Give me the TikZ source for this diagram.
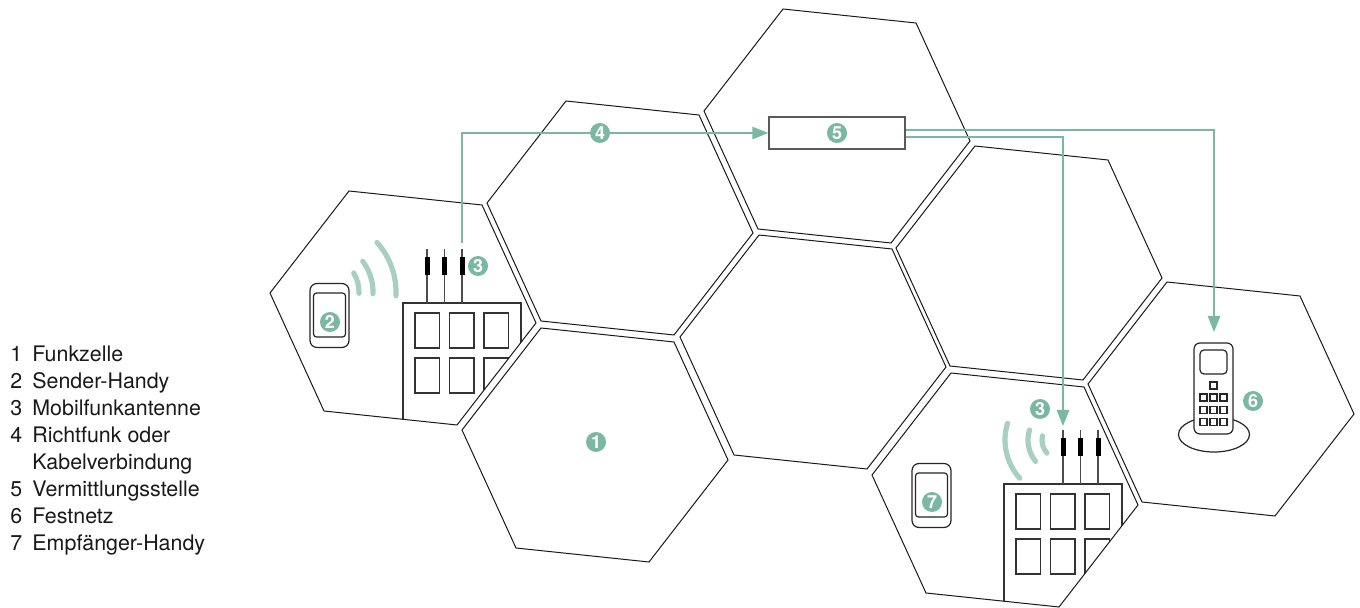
\documentclass[tikz,border=0pt]{standalone}
\usepackage{fontspec}
\setmainfont{TeX Gyre Heros}
\usetikzlibrary{arrows.meta,calc}

\definecolor{funkgruen}{RGB}{123,184,164}
\definecolor{wellengruen}{RGB}{168,208,194}

\tikzset{
  zelle/.style={draw=black!90, line width=0.5pt},
  haus/.style={draw=black!80, line width=0.6pt},
  mast/.style={draw=black!70, line width=0.6pt},
  welle/.style={draw=wellengruen, line width=2.6pt, line cap=round},
  funk/.style={draw=funkgruen, line width=0.8pt, -{Triangle[length=8pt,width=6.2pt]}},
  nr/.style={circle, fill=funkgruen, text=white, inner sep=0pt, minimum size=10pt,
    font=\fontsize{9}{9}\selectfont\bfseries},
  geraet/.style={draw=black!85, fill=white, line width=0.6pt, inner sep=0pt},
  legende/.style={anchor=base west, inner sep=0pt, text=black!90,
    font=\fontsize{10.7}{12}\selectfont},
}

% one cell, drawn around the origin
\newcommand{\wabe}{(133,15) -- (79,-103) -- (-54,-117) -- (-133,-15) -- (-79,103) -- (54,117) -- cycle}

% house with three masts: left, top, offset of the first mast
\newcommand{\gebaeude}[3]{%
  \draw[haus] (#1,#2) rectangle ++(118,160);
  \foreach \c in {0,1,2}
    \foreach \r in {0,1}
      \draw[haus] (#1+12+34.5*\c, #2+10+45*\r) rectangle ++(24.5,35);
  \foreach \m in {0,1,2} {
    \draw[mast] (#1+#3+17.5*\m, #2) -- ++(0,-54);
    \fill[black] (#1+#3+17.5*\m-2.5, #2-46) rectangle ++(5,18);
  }
}

\begin{document}
\begin{tikzpicture}[x=0.5pt, y=-0.5pt]
    \useasboundingbox (0,0) rectangle (1360,608);

    % legend
    \foreach \i/\n/\txt in {0/1/Funkzelle, 1/2/Sender-Handy, 2/3/Mobilfunkantenne,
        3/4/Richtfunk oder, 4//Kabelverbindung, 5/5/Vermittlungsstelle,
        6/6/Festnetz, 7/7/Empfänger-Handy} {
      \node[legende] (nr\i) at (10, 362+26.9*\i) {\n};
      \node[legende] (txt\i) at (32, 362+26.9*\i) {\txt};
    }

    % houses, cut off at the cell border
    \begin{scope}
      \clip[shift={(403,308)}] \wabe;
      \gebaeude{403}{303}{24}
    \end{scope}
    \begin{scope}
      \clip[shift={(1005,490)}] \wabe;
      \gebaeude{1004}{484}{59}
    \end{scope}

    % cells
    \foreach \n/\x/\y in {A/403/308, B/620/218, C/837/126, D/813/352,
        E/595/445, F/1029/263, G/1005/490, H/1221/399} {
      \coordinate (zelle\n) at (\x,\y);
      \draw[zelle, shift={(\x,\y)}] \wabe;
    }

    % radio waves
    \draw[welle] (322,292) ++(-42:74) arc[start angle=-42, end angle=3, radius=74];
    \draw[welle] (322,292) ++(-37:51) arc[start angle=-37, end angle=2, radius=51];
    \draw[welle] (322,292) ++(-31:37) arc[start angle=-31, end angle=2, radius=37];
    \draw[welle] (1062,440) ++(138:57) arc[start angle=138, end angle=197, radius=57];
    \draw[welle] (1062,440) ++(141:34) arc[start angle=141, end angle=197, radius=34];
    \draw[welle] (1062,440) ++(139:20) arc[start angle=139, end angle=192, radius=20];

    % mobile phones
    \node[geraet, rounded corners=3.5pt, minimum width=19.5pt, minimum height=32pt] (sender) at (329.5,315.5) {};
    \node[geraet, rounded corners=1.5pt, minimum width=16pt, minimum height=22pt] (senderdisplay) at (329.5,315) {};
    \node[geraet, rounded corners=3.5pt, minimum width=19.5pt, minimum height=32pt] (empf) at (931.5,495.5) {};
    \node[geraet, rounded corners=1.5pt, minimum width=16pt, minimum height=22pt] (empfdisplay) at (931.5,495) {};

    % desk phone
    \draw[geraet] (1214,434.5) ellipse [x radius=35.5, y radius=17.5];
    \node[geraet, rounded corners=3pt, minimum width=19.5pt, minimum height=45.5pt] (festnetz) at (1213.5,388.5) {};
    \node[geraet, rounded corners=2pt, minimum width=13.5pt, minimum height=12pt] (schirm) at (1213.5,362) {};
    \node[geraet, minimum size=3.5pt] (taste0) at (1213.5,385.5) {};
    \foreach \c in {0,1,2}
      \foreach \r in {0,1,2}
        \node[geraet, minimum size=3.5pt] (taste\c\r) at (1203.5+10*\c, 397.5+12.2*\r) {};

    % switching centre and links
    \node[geraet, draw=black!65, line width=0.7pt, minimum width=68pt, minimum height=16pt] (vst) at (837,133) {};
    \coordinate (antA) at (462,243);
    \coordinate (antG) at (1063,426);
    \coordinate (tel) at (1214,332);
    \draw[funk] (antA) |- (vst.west);
    \draw[funk] ($(vst.east)+(0,-3)$) -| (tel);
    \draw[funk] ($(vst.east)+(0,4)$) -| (antG);

    % numbers
    \node[nr] (nr-1) at (596,442) {1};
    \node[nr] (nr-2) at (330,322) {2};
    \node[nr] (nr-3a) at (478,266) {3};
    \node[nr] (nr-3b) at (1040,409) {3};
    \node[nr] (nr-4) at (600,133) {4};
    \node[nr] (nr-5) at (vst) {5};
    \node[nr] (nr-6) at (1253,401) {6};
    \node[nr] (nr-7) at (932,502) {7};
\end{tikzpicture}
\end{document}
